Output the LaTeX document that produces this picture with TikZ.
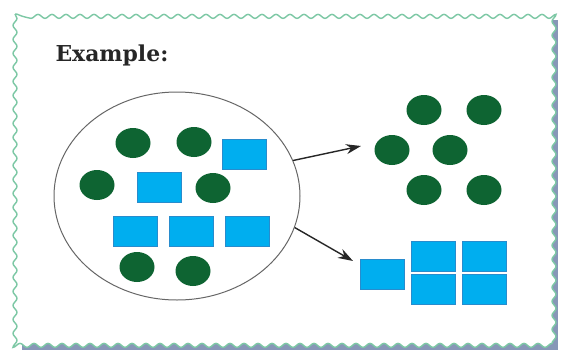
\documentclass[tikz,border=0pt]{standalone}
\usepackage{fontspec}
\usepackage{tikz}
\usetikzlibrary{decorations.pathmorphing,arrows.meta,shapes}
\newfontfamily\headfont{DejaVu Serif}

\definecolor{dotgreen}{RGB}{14,100,50}
\definecolor{boxblue}{RGB}{0,174,239}
\definecolor{boxedge}{RGB}{40,140,205}
\definecolor{wavegreen}{RGB}{125,200,165}
\definecolor{shadowblue}{RGB}{105,125,165}

\tikzset{
  dot/.style={ellipse,fill=dotgreen,minimum width=35bp,minimum height=30bp,inner sep=0pt},
  tile/.style={draw=boxedge,line width=0.6bp,fill=boxblue,minimum width=44bp,minimum height=30bp,inner sep=0pt},
  sortarrow/.style={-{Stealth[length=15bp,width=10bp]},line width=1.4bp,black!85}
}

\begin{document}
\begin{tikzpicture}

\useasboundingbox (0,0) rectangle (564bp,-351bp);
\fill[white] (0,0) rectangle (564bp,-351bp);
\fill[shadowblue,opacity=0.8] (22bp,-20bp) rectangle (558bp,-350bp);
\draw[decorate,decoration={snake,segment length=14bp,amplitude=2bp},draw=wavegreen,line width=1.4bp,fill=white] (15bp,-14bp) rectangle (551bp,-344bp);

\node (T) at (52bp,-61bp)[anchor=base west,font=\headfont\bfseries\fontsize{22}{26}\selectfont,text=black!85] {Example:};

% the mixed set
\node (S) at (177bp,-196bp)[draw,ellipse,black!60,line width=1bp,minimum width=246bp,minimum height=208bp] {};
\node (C1) at (133bp,-143bp)[dot] {};
\node (C2) at (194bp,-142bp)[dot] {};
\node (C3) at (97bp,-185bp)[dot] {};
\node (C4) at (213bp,-188bp)[dot] {};
\node (C5) at (137bp,-267bp)[dot] {};
\node (C6) at (193bp,-271bp)[dot] {};
\node (R1) at (244bp,-154bp)[tile] {};
\node (R2) at (159bp,-187bp)[tile] {};
\node (R3) at (135bp,-231bp)[tile] {};
\node (R4) at (191bp,-231bp)[tile] {};
\node (R5) at (247bp,-231bp)[tile] {};

% the circles
\node (D1) at (424bp,-110bp)[dot] {};
\node (D2) at (484bp,-110bp)[dot] {};
\node (D3) at (392bp,-150bp)[dot] {};
\node (D4) at (450bp,-150bp)[dot] {};
\node (D5) at (424bp,-190bp)[dot] {};
\node (D6) at (484bp,-190bp)[dot] {};

% the rectangles
\node (Q1) at (382bp,-274bp)[tile] {};
\node (Q2) at (433bp,-256bp)[tile] {};
\node (Q3) at (484bp,-256bp)[tile] {};
\node (Q4) at (433bp,-289bp)[tile] {};
\node (Q5) at (484bp,-289bp)[tile] {};

\coordinate (A1) at (361bp,-146bp);
\coordinate (A2) at (353bp,-261bp);
\draw [sortarrow] (S.17) -- (A1);
\draw [sortarrow] (S.-15) -- (A2);
\end{tikzpicture}
\end{document}
